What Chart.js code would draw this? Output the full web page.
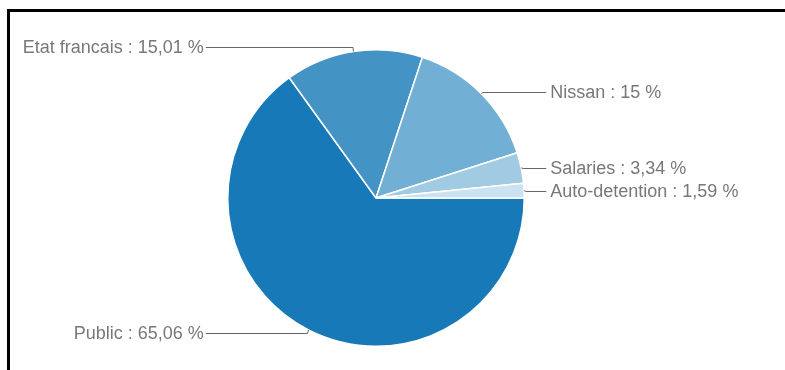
<!DOCTYPE html>
<html>
<head>
<meta charset="utf-8">
<script src="https://cdn.jsdelivr.net/npm/chart.js@4/dist/chart.umd.min.js"></script>
<style>
  html, body { margin: 0; padding: 0; background: #fff; overflow: hidden; }
  #wrap { position: relative; width: 785px; height: 370px; }
  #frame {
    position: absolute; left: 7px; top: 9px; right: -10px; bottom: -10px;
    border-left: 3px solid #000; border-top: 3px solid #000;
    pointer-events: none;
  }
  canvas { position: absolute; left: 0; top: 0; }
</style>
</head>
<body>
<div id="wrap">
  <canvas id="pie" width="785" height="370"></canvas>
  <div id="frame"></div>
</div>
<script>
// ==============================
//  DATA
// ==============================
const LABELS = ['Public', 'Etat francais', 'Nissan', 'Salaries', 'Auto-detention'];
const VALUES = [65.06, 15.01, 15, 3.34, 1.59];
const COLORS = ['#1879b9', '#4393c5', '#71afd5', '#a1cae3', '#cce2f0'];

// ==============================
//  HELPERS
// ==============================
function labelText(i) {
  return LABELS[i] + ' : ' + String(VALUES[i]).replace('.', ',') + ' %';
}

// leader lines + labels on both sides of the pie
const pieLabels = {
  id: 'pieLabels',
  afterDatasetsDraw(chart) {
    const ctx = chart.ctx;
    const meta = chart.getDatasetMeta(0);
    ctx.save();
    ctx.font = '18px "Liberation Sans", Arial, sans-serif';
    ctx.fillStyle = '#787878';
    ctx.strokeStyle = '#666';
    ctx.lineWidth = 1;
    ctx.textBaseline = 'middle';
    meta.data.forEach((arc, i) => {
      const p = arc.getProps(['x', 'y', 'startAngle', 'endAngle', 'outerRadius'], true);
      const mid = (p.startAngle + p.endAngle) / 2;
      const dx = Math.cos(mid), dy = Math.sin(mid);
      const px = p.x + dx * p.outerRadius, py = p.y + dy * p.outerRadius;
      const ly = Math.round(py + dy * dy * dy * 5) + 0.5;
      const right = dx > 0;
      const ex = p.x + (right ? 1 : -1) * (p.outerRadius + 22);
      ctx.beginPath();
      ctx.moveTo(px, py);
      ctx.lineTo(px + dx * 2, ly);
      ctx.lineTo(ex, ly);
      ctx.stroke();
      ctx.textAlign = right ? 'left' : 'right';
      ctx.fillText(labelText(i), ex + (right ? 4 : -2), ly + 1);
    });
    ctx.restore();
  }
};

// ==============================
//  CHART
// ==============================
new Chart(document.getElementById('pie').getContext('2d'), {
  type: 'pie',
  data: {
    labels: LABELS,
    datasets: [{
      data: VALUES,
      backgroundColor: COLORS,
      borderColor: '#fff',
      borderWidth: 1.5,
      hoverOffset: 0,
    }]
  },
  options: {
    responsive: false,
    animation: false,
    rotation: 90,
    layout: { padding: { top: 49, bottom: 23, left: 0, right: 33 } },
    plugins: { legend: { display: false }, tooltip: { enabled: false } }
  },
  plugins: [pieLabels]
});
</script>
</body>
</html>
